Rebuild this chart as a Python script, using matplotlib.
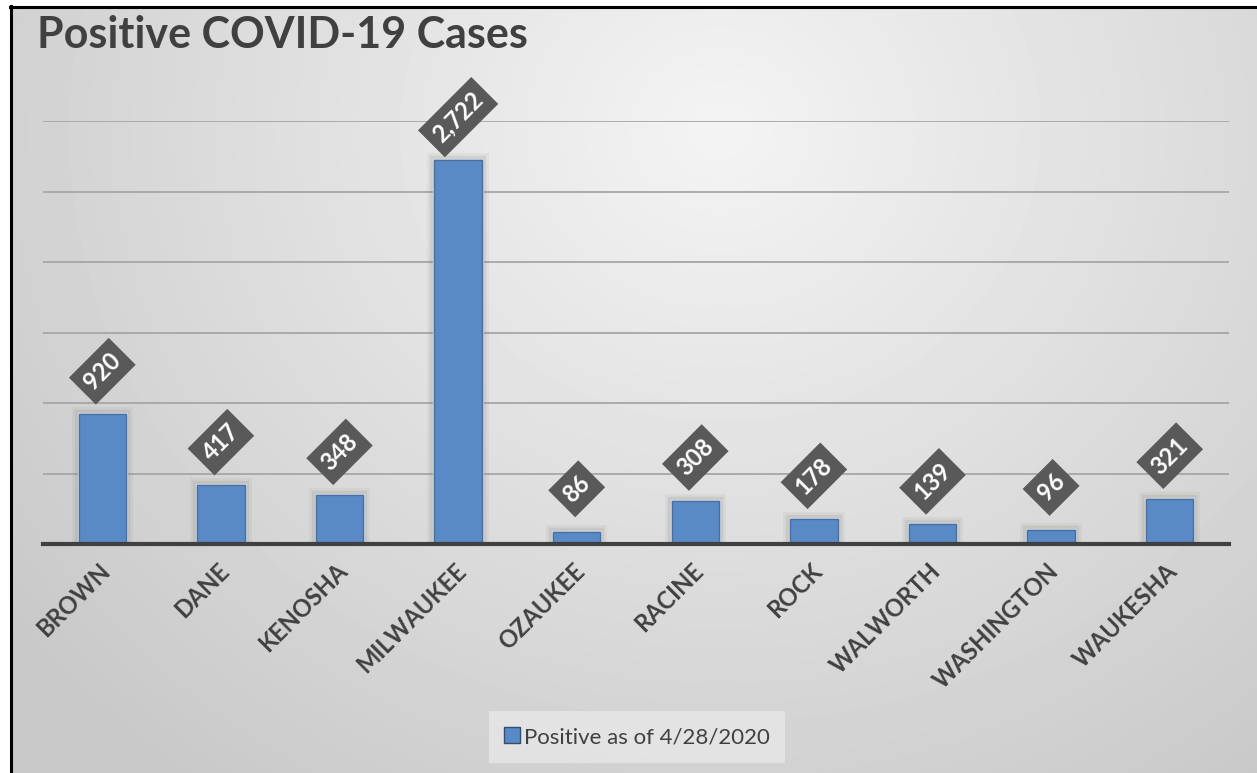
import numpy as np
import matplotlib.pyplot as plt
import matplotlib.patheffects as pe
from matplotlib.transforms import ScaledTranslation

counties = ["BROWN", "DANE", "KENOSHA", "MILWAUKEE", "OZAUKEE", "RACINE",
            "ROCK", "WALWORTH", "WASHINGTON", "WAUKESHA"]
positives = [920, 417, 348, 2722, 86, 308, 178, 139, 96, 321]
series_name = "Positive as of 4/28/2020"
title = "Positive COVID-19 Cases"

plt.rcParams['font.family'] = ['Lato', 'DejaVu Sans']

W, H = 1257, 773
fig = plt.figure(figsize=(W / 100, H / 100), dpi=100)

# grey radial background with a white margin and black frame on top/left
bg = fig.add_axes([0, 0, 1, 1], zorder=-10)
yy, xx = np.mgrid[0:H, 0:W]
r = np.hypot(xx - 720, (yy - 130) * 1.1)
shade = 0.955 - 0.17 * np.clip(r / 900, 0, 1)
shade[(xx < 10) | (yy < 6)] = 1.0
bg.imshow(shade, cmap='gray', vmin=0, vmax=1, extent=[0, W, H, 0], aspect='auto')
bg.plot([10.5, 10.5], [6, H], color='black', lw=2.2)
bg.plot([10, W], [7, 7], color='black', lw=2.2)
bg.set_xlim(0, W)
bg.set_ylim(H, 0)
bg.axis('off')

ax = fig.add_axes([43 / W, 1 - 544 / H, 1186 / W, 423 / H])
ax.patch.set_alpha(0)
x = np.arange(len(counties))
bars = ax.bar(x, positives, width=0.4, color='#5a8ac6', edgecolor='#4a6f9f',
              linewidth=1.0, zorder=3)
glow = [pe.Stroke(linewidth=10, foreground='#6e6a55', alpha=0.07),
        pe.Stroke(linewidth=6, foreground='#6e6a55', alpha=0.12),
        pe.Stroke(linewidth=2.5, foreground='#c9d6e8', alpha=0.9),
        pe.Normal()]
for b in bars:
    b.set_path_effects(glow)

ax.set_xlim(-0.5, len(counties) - 0.5)
ax.set_ylim(0, 3000)
ax.set_yticks(range(0, 3001, 500))
ax.tick_params(axis='y', left=False, labelleft=False)
ax.grid(axis='y', color='#a6a6a6', linewidth=1.3)
ax.set_axisbelow(True)
for s in ['top', 'left', 'right']:
    ax.spines[s].set_visible(False)
ax.spines['bottom'].set_color('#404040')
ax.spines['bottom'].set_linewidth(3)
ax.spines['bottom'].set_zorder(4)

ax.set_xticks(x)
ax.set_xticklabels(counties, rotation=45, ha='right', va='top',
                   rotation_mode='anchor', fontsize=17, fontweight='bold',
                   color='#404040')
ax.tick_params(axis='x', length=0, pad=11)
for lbl in ax.get_xticklabels():
    lbl.set_transform(lbl.get_transform() + ScaledTranslation(-0.04, 0, fig.dpi_scale_trans))

for xi, v in zip(x, positives):
    ax.annotate(f"{v:,}", (xi, v), xytext=(0, 31), textcoords='offset points',
                ha='center', va='center', rotation=45, rotation_mode='anchor',
                color='white', fontsize=17, fontweight='bold',
                bbox=dict(boxstyle='square,pad=0.32', fc='#595959', ec='none'),
                annotation_clip=False, zorder=5)

fig.text(37 / W, 1 - 48 / H, title, fontsize=31, fontweight='bold',
         color='#404040', ha='left', va='baseline')

leg = fig.legend([bars], [series_name], loc='center',
                 bbox_to_anchor=(637 / W, 1 - 737 / H), fontsize=16,
                 handlelength=0.7, handleheight=0.7, handletextpad=0.2,
                 fancybox=False, facecolor='#e6e6e6', edgecolor='none',
                 framealpha=0.85, labelcolor='#404040', borderpad=0.7,
                 borderaxespad=0)
leg.get_patches()[0].set_path_effects([])
leg.get_patches()[0].set_edgecolor('#2f4d75')

fig.savefig('out.png', dpi=100)
